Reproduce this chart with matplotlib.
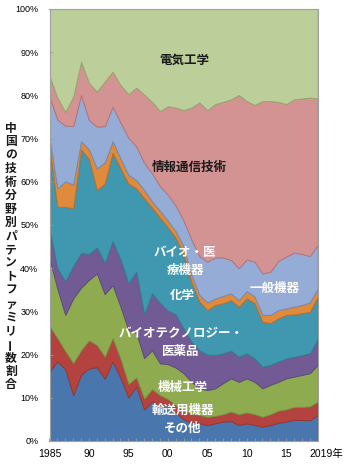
import matplotlib
matplotlib.use("Agg")
import matplotlib.pyplot as plt
import matplotlib.transforms as mtransforms
import numpy as np


YEARS = list(range(1985, 2020))

# share of patent families by field (%), listed bottom to top of the stack
other = [16.0, 18.5, 16.6, 10.6, 15.3, 16.8, 17.1, 14.4, 18.4, 14.6, 10.1, 12.6, 7.3, 9.2, 8.1,
         8.3, 6.6, 5.0, 4.3, 4.1, 3.7, 4.1, 4.5, 4.6, 3.7, 4.1, 3.7, 3.3, 3.7, 4.2, 4.5, 4.9, 4.9, 4.8, 6.0]
transport = [10.6, 5.3, 4.2, 7.4, 5.7, 6.5, 5.1, 5.1, 5.4, 4.4, 3.1, 2.1, 2.5, 2.8, 2.5,
             1.4, 1.7, 2.2, 2.1, 1.9, 1.9, 1.7, 1.7, 2.2, 2.5, 2.5, 2.5, 2.3, 2.5, 2.8, 2.8, 3.0, 3.0, 3.2, 3.1]
mechanical = [15.7, 11.4, 8.4, 15.0, 14.5, 14.0, 16.6, 14.5, 12.3, 12.1, 12.5, 10.3, 9.4, 9.0, 7.4,
              8.1, 8.7, 8.5, 7.3, 6.2, 6.2, 6.4, 7.2, 7.7, 7.5, 7.9, 7.5, 6.6, 6.8, 6.7, 7.2, 7.0, 7.4, 7.7, 8.5]
biotech = [6.7, 4.8, 7.8, 7.5, 8.0, 6.0, 6.0, 7.2, 10.2, 11.0, 10.8, 14.2, 10.2, 13.2, 14.0,
           12.4, 12.3, 10.3, 9.3, 8.8, 8.2, 7.7, 6.9, 6.4, 5.8, 5.8, 5.4, 5.0, 4.6, 4.7, 4.6, 4.6, 4.6, 4.6, 6.0]
chemistry = [19.3, 14.2, 17.2, 13.4, 24.0, 22.0, 13.3, 18.4, 20.4, 21.0, 23.1, 19.3, 26.8, 19.8, 19.7,
             19.3, 17.7, 17.3, 13.7, 11.3, 10.3, 11.6, 11.6, 11.7, 11.6, 12.7, 12.8, 10.4, 9.7, 10.0, 10.1, 9.8, 9.7, 9.6, 9.8]
medical = [2.0, 4.3, 5.9, 5.5, 1.9, 2.2, 5.0, 4.9, 2.7, 2.3, 2.0, 1.9, 1.9, 1.5, 1.6,
           1.5, 1.6, 1.7, 1.7, 1.5, 1.8, 1.5, 1.7, 1.6, 1.5, 1.7, 1.5, 1.6, 1.9, 1.9, 1.5, 1.8, 1.9, 2.2, 1.9]
general = [9.4, 15.9, 12.9, 13.5, 10.7, 6.8, 9.7, 8.4, 8.0, 8.3, 8.6, 7.8, 6.3, 6.5, 5.7,
           6.0, 5.9, 6.0, 8.2, 9.0, 9.4, 9.5, 8.9, 7.7, 7.4, 7.3, 8.1, 9.6, 10.0, 11.4, 12.0, 12.5, 11.8, 10.7, 10.1]
ict = [4.8, 5.1, 3.2, 6.8, 7.7, 8.6, 8.1, 10.3, 8.1, 8.7, 10.1, 13.6, 15.8, 16.5, 17.4,
       20.5, 22.7, 25.6, 30.6, 35.6, 35.1, 35.5, 36.0, 37.2, 40.1, 36.7, 36.3, 39.9, 39.5, 36.8, 35.3, 35.5, 36.0, 36.7, 33.9]
electrical = [15.5, 20.5, 23.8, 20.3, 12.2, 17.1, 19.1, 16.8, 14.5, 17.6, 19.7, 18.2, 19.8, 21.5, 23.6,
              22.5, 22.8, 23.4, 22.8, 21.6, 23.4, 22.0, 21.5, 20.9, 19.9, 21.3, 22.2, 21.3, 21.3, 21.5, 22.0, 20.9, 20.7, 20.5, 20.7]

FILL_COLORS = ["#4a76ae", "#b4433f", "#8eac4f", "#725a94", "#3f97b0",
               "#e08a3c", "#95acd6", "#d49393", "#bccf9a"]
EDGE_COLORS = ["#3d6397", "#963632", "#779140", "#5e4a7c", "#337f95",
               "#c0702a", "#6f8cc0", "#b87474", "#94ad6e"]

# (text, x in years, y in %, colour)
LABELS = [
    ("電気工学", 2002.1, 88.2, "#1a1a1a"),
    ("情報通信技術", 2002.7, 63.4, "#1a1a1a"),
    ("バイオ・医\n療機器", 2002.2, 41.5, "white"),
    ("化学", 2001.9, 33.8, "white"),
    ("一般機器", 2013.5, 35.4, "white"),
    ("バイオテクノロジー・\n医薬品", 2001.7, 22.8, "white"),
    ("機械工学", 2001.9, 12.5, "white"),
    ("輸送用機器", 2001.9, 7.2, "white"),
    ("その他", 2001.9, 3.0, "white"),
]

Y_TITLE = "中国の技術分野別パテントファミリー数割合"

JP = ["Noto Sans CJK JP", "DejaVu Sans"]


def main():
    plt.rcParams["font.family"] = ["Liberation Sans", "Noto Sans CJK JP", "DejaVu Sans"]

    fig = plt.figure(figsize=(3.5, 4.71), dpi=100)
    ax = fig.add_axes([49.5 / 350, 30 / 471, 268.2 / 350, 432 / 471])

    stack = [other, transport, mechanical, biotech, chemistry, medical, general, ict, electrical]
    polys = ax.stackplot(YEARS, *[np.array(s) for s in stack], colors=FILL_COLORS)
    for poly, ec in zip(polys, EDGE_COLORS):
        poly.set_edgecolor(ec)
        poly.set_linewidth(0.7)

    ax.set_xlim(1985, 2019)
    ax.set_ylim(0, 100)

    ax.set_xticks([1985, 1990, 1995, 2000, 2005, 2010, 2015, 2019])
    ax.set_xticklabels(["1985", "90", "95", "00", "05", "10", "15", "2019年"], fontsize=7.5)
    ax.set_xticks(YEARS, minor=True)
    ax.set_yticks(range(0, 101, 10))
    ax.set_yticklabels([f"{v}%" for v in range(0, 101, 10)], fontsize=6.5)
    ax.tick_params(axis="both", which="both", direction="in", length=2.5,
                   width=0.6, color="#9a9a9a")
    ax.tick_params(axis="x", pad=6)
    ax.tick_params(axis="y", pad=8)

    last = ax.get_xticklabels()[-1]
    last.set_transform(last.get_transform() +
                       mtransforms.ScaledTranslation(9 / 100, 0, fig.dpi_scale_trans))

    for side in ["left", "right", "top", "bottom"]:
        ax.spines[side].set_color("#a0a0a0")
        ax.spines[side].set_linewidth(0.8)

    for text, x, y, color in LABELS:
        ax.text(x, y, text, ha="center", va="center", multialignment="center",
                fontsize=9, color=color, family=JP, weight="bold", linespacing=1.45)

    # vertical y-axis title, one character per line
    top_px, step_px = 128.3, 13.5
    for i, ch in enumerate(Y_TITLE):
        y = 1 - (top_px + i * step_px) / 471
        fig.text(11 / 350, y, ch, ha="center", va="center", fontsize=8.5,
                 family=JP, weight="bold", color="#1a1a1a",
                 rotation=90 if ch == "ー" else 0, rotation_mode="anchor")

    fig.savefig("out.png", dpi=100)
    plt.close(fig)


if __name__ == "__main__":
    main()
